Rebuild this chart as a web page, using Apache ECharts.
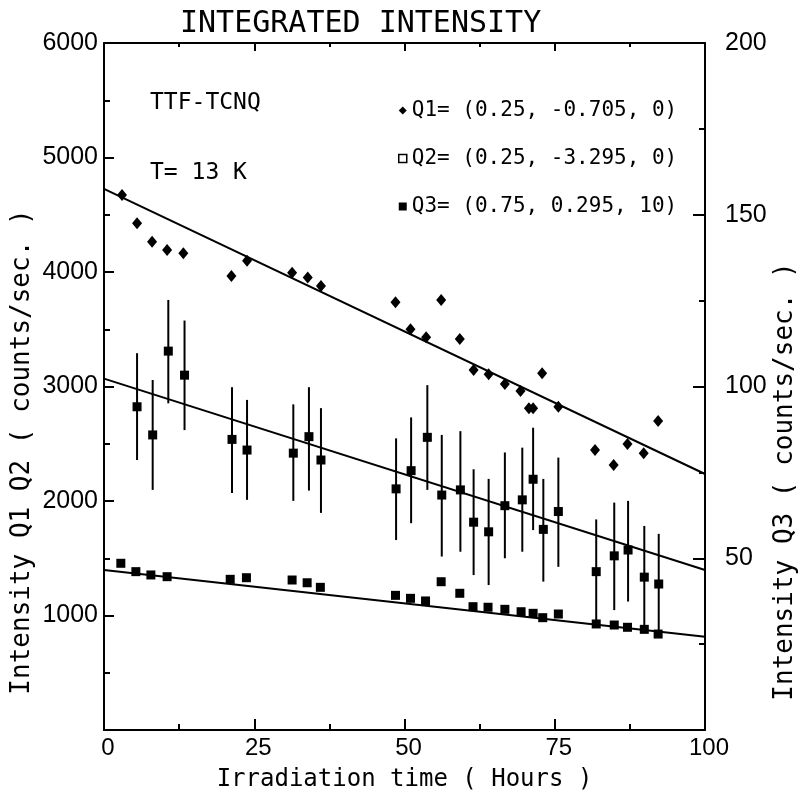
<!DOCTYPE html>
<html>
<head>
<meta charset="utf-8">
<script src="https://cdn.jsdelivr.net/npm/echarts@6/dist/echarts.min.js"></script>
<style>
html,body{margin:0;padding:0;background:#fff;}
#chart{width:799px;height:792px;}
</style>
</head>
<body>
<div id="chart"></div>
<script>
// ---- data ----
const q1Hours = [3.0, 5.5, 8.0, 10.5, 13.2, 21.2, 23.8, 31.3, 33.9, 36.1, 48.5, 51.0, 53.6, 56.1, 59.2, 61.5, 64.0, 66.7, 69.3, 70.7, 71.4, 72.9, 75.6, 81.7, 84.8, 87.1, 89.8, 92.2];
const q1Values = [4672, 4425, 4265, 4192, 4163, 3965, 4099, 3994, 3953, 3878, 3735, 3500, 3430, 3755, 3415, 3144, 3107, 3022, 2961, 2810, 2810, 3115, 2824, 2445, 2314, 2498, 2417, 2699];

const q2Hours = [2.8, 5.3, 7.8, 10.5, 21.0, 23.7, 31.3, 33.8, 36.0, 48.5, 51.0, 53.5, 56.1, 59.2, 61.4, 63.9, 66.7, 69.4, 71.4, 73.0, 75.6, 81.9, 84.9, 87.1, 89.9, 92.2];
const q2Values = [1456, 1383, 1354, 1339, 1316, 1330, 1310, 1286, 1246, 1176, 1150, 1127, 1295, 1194, 1077, 1072, 1054, 1033, 1019, 981, 1013, 926, 917, 897, 879, 838];

const q3Hours = [5.5, 8.1, 10.7, 13.4, 21.3, 23.8, 31.5, 34.1, 36.1, 48.6, 51.1, 53.8, 56.2, 59.3, 61.5, 64.0, 66.7, 69.6, 71.4, 73.1, 75.6, 81.9, 84.9, 87.2, 89.9, 92.3];
const q3Values = [94.1, 85.9, 110.3, 103.3, 84.6, 81.5, 80.6, 85.4, 78.6, 70.2, 75.5, 85.2, 68.4, 69.9, 60.5, 57.7, 65.3, 67.0, 73.0, 58.4, 63.6, 46.1, 50.7, 52.4, 44.5, 42.5];
const q3High = [109.7, 101.9, 125.2, 119.2, 99.8, 96.1, 94.8, 99.8, 93.7, 84.9, 91.0, 100.4, 85.9, 87.0, 75.9, 73.1, 80.8, 82.2, 88.0, 73.1, 79.3, 61.3, 66.2, 66.7, 59.4, 57.1];
const q3Low = [78.6, 69.9, 95.1, 87.3, 69.0, 67.0, 66.7, 69.7, 63.2, 55.3, 60.2, 69.9, 50.5, 51.9, 45.1, 42.2, 50.0, 51.9, 58.2, 43.2, 47.5, 30.6, 34.9, 37.4, 29.3, 27.7];

const fitHours = [0, 100];
const fitQ1 = [4726, 2236];
const fitQ2 = [1397, 815];
const fitQ3 = [102.3, 46.6];

const xTicks = {min: 0, max: 100, interval: 25};
const leftTicks = {min: 0, max: 6000, interval: 1000};
const rightTicks = {min: 0, max: 200, interval: 50};

const q1Name = 'Q1= (0.25, -0.705, 0)';
const q2Name = 'Q2= (0.25, -3.295, 0)';
const q3Name = 'Q3= (0.75, 0.295, 10)';

// ---- build ----
const zip = (a, b) => a.map((v, i) => [v, b[i]]);
const mono = '"DejaVu Sans Mono", monospace';
const sans = '"Liberation Sans", sans-serif';
const black = '#000';
const plain = v => String(v);

const chart = echarts.init(document.getElementById('chart'), null, {renderer: 'canvas'});

const axisLine = {show: true, onZero: false, lineStyle: {color: black, width: 2}};

const option = {
  backgroundColor: '#fff',
  animation: false,
  title: {
    text: 'INTEGRATED INTENSITY',
    left: 180, top: 9, padding: 0,
    textStyle: {fontFamily: mono, fontSize: 30, fontWeight: 'normal', color: black}
  },
  legend: {
    orient: 'vertical',
    left: 393, top: 95,
    itemGap: 27,
    itemWidth: 8, itemHeight: 8,
    textStyle: {fontFamily: mono, fontSize: 21, color: black},
    data: [
      {name: q1Name, icon: 'diamond'},
      {name: q2Name, icon: 'rect', itemStyle: {color: '#fff', borderColor: black, borderWidth: 1.5, opacity: 1}},
      {name: q3Name, icon: 'rect'}
    ]
  },
  graphic: [
    {type: 'text', x: 150, y: 103, style: {text: 'TTF-TCNQ', fill: black, font: '23px ' + mono, verticalAlign: 'middle'}},
    {type: 'text', x: 150, y: 173, style: {text: 'T= 13 K', fill: black, font: '23px ' + mono, verticalAlign: 'middle'}}
  ],
  grid: {left: 104, right: 94, top: 43, bottom: 62, containLabel: false, outerBoundsMode: 'none'},
  xAxis: [
    {
      type: 'value', position: 'bottom',
      min: xTicks.min, max: xTicks.max, interval: xTicks.interval,
      axisLine: axisLine,
      axisTick: {show: true, inside: true, length: 11, lineStyle: {color: black, width: 2}},
      minorTick: {show: true, splitNumber: 2, length: 6, lineStyle: {color: black, width: 2}},
      splitLine: {show: false}, minorSplitLine: {show: false},
      axisLabel: {color: black, fontFamily: sans, fontSize: 24, margin: 6, padding: [0, 0, 0, 8], formatter: plain},
      name: 'Irradiation time ( Hours )',
      nameLocation: 'middle', nameGap: 38, nameMoveOverlap: false,
      nameTextStyle: {fontFamily: mono, fontSize: 24, color: black}
    },
    {
      type: 'value', position: 'top',
      min: xTicks.min, max: xTicks.max, interval: xTicks.interval,
      axisLine: axisLine,
      axisTick: {show: true, inside: true, length: 8, lineStyle: {color: black, width: 2}},
      minorTick: {show: true, splitNumber: 2, length: 4, lineStyle: {color: black, width: 2}},
      splitLine: {show: false}, minorSplitLine: {show: false},
      axisLabel: {show: false}
    }
  ],
  yAxis: [
    {
      type: 'value', position: 'left',
      min: leftTicks.min, max: leftTicks.max, interval: leftTicks.interval,
      axisLine: axisLine,
      axisTick: {show: true, inside: true, length: 10, lineStyle: {color: black, width: 2}},
      minorTick: {show: true, splitNumber: 2, length: 6, lineStyle: {color: black, width: 2}},
      splitLine: {show: false}, minorSplitLine: {show: false},
      axisLabel: {color: black, fontFamily: sans, fontSize: 25, margin: 6, showMinLabel: false, formatter: plain},
      name: 'Intensity Q1 Q2 ( counts/sec. )',
      nameLocation: 'middle', nameGap: 69, nameMoveOverlap: false,
      nameTextStyle: {fontFamily: mono, fontSize: 26, color: black, padding: [0, 131, 0, 0]}
    },
    {
      type: 'value', position: 'right',
      min: rightTicks.min, max: rightTicks.max, interval: rightTicks.interval,
      axisLine: axisLine,
      axisTick: {show: true, inside: true, length: 12, lineStyle: {color: black, width: 2}},
      minorTick: {show: true, splitNumber: 2, length: 6, lineStyle: {color: black, width: 2}},
      splitLine: {show: false}, minorSplitLine: {show: false},
      axisLabel: {color: black, fontFamily: sans, fontSize: 25, margin: 20, showMinLabel: false, formatter: plain},
      name: 'Intensity Q3 ( counts/sec. )',
      nameLocation: 'middle', nameGap: 67, nameMoveOverlap: false,
      nameTextStyle: {fontFamily: mono, fontSize: 26, color: black, padding: [0, 190, 0, 0]}
    }
  ],
  series: [
    {
      name: 'fit Q1', type: 'line', xAxisIndex: 0, yAxisIndex: 0,
      data: zip(fitHours, fitQ1), showSymbol: false, silent: true,
      lineStyle: {color: black, width: 2}, z: 1
    },
    {
      name: 'fit Q2', type: 'line', xAxisIndex: 0, yAxisIndex: 0,
      data: zip(fitHours, fitQ2), showSymbol: false, silent: true,
      lineStyle: {color: black, width: 2}, z: 1
    },
    {
      name: 'fit Q3', type: 'line', xAxisIndex: 0, yAxisIndex: 1,
      data: zip(fitHours, fitQ3), showSymbol: false, silent: true,
      lineStyle: {color: black, width: 2}, z: 1
    },
    {
      name: 'Q3 error', type: 'custom', xAxisIndex: 0, yAxisIndex: 1,
      data: q3Hours.map((h, i) => [h, q3Low[i], q3High[i]]),
      encode: {x: 0, y: [1, 2]},
      renderItem: function (params, api) {
        const p1 = api.coord([api.value(0), api.value(1)]);
        const p2 = api.coord([api.value(0), api.value(2)]);
        return {type: 'line', shape: {x1: p1[0], y1: p1[1], x2: p2[0], y2: p2[1]},
                style: {stroke: black, lineWidth: 2}};
      },
      silent: true, z: 2
    },
    {
      name: q1Name, type: 'scatter', xAxisIndex: 0, yAxisIndex: 0,
      data: zip(q1Hours, q1Values),
      symbol: 'diamond', symbolSize: [10, 12],
      itemStyle: {color: black, opacity: 1}, z: 3
    },
    {
      name: q2Name, type: 'scatter', xAxisIndex: 0, yAxisIndex: 0,
      data: zip(q2Hours, q2Values),
      symbol: 'rect', symbolSize: 9,
      itemStyle: {color: black, opacity: 1}, z: 3
    },
    {
      name: q3Name, type: 'scatter', xAxisIndex: 0, yAxisIndex: 1,
      data: zip(q3Hours, q3Values),
      symbol: 'rect', symbolSize: 9,
      itemStyle: {color: black, opacity: 1}, z: 3
    }
  ]
};
chart.setOption(option);
</script>
</body>
</html>
